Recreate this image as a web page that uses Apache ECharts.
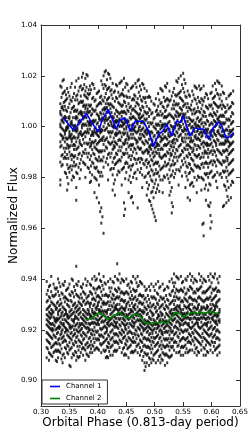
<!DOCTYPE html>
<html>
<head>
<meta charset="utf-8">
<script src="https://cdn.jsdelivr.net/npm/echarts@6/dist/echarts.min.js"></script>
<style>html,body{margin:0;padding:0;background:#fff}#c{width:249px;height:434px}</style>
</head>
<body>
<div id="c"></div>
<script>
// Tick labels
var xTicks = [0.30, 0.35, 0.40, 0.45, 0.50, 0.55, 0.60, 0.65];
var yTicks = [0.90, 0.92, 0.94, 0.96, 0.98, 1.00, 1.02, 1.04];

// Channel 1 raw points: phase columns and flux values (units of 0.001)
var ch1Phase = [0.334,0.338,0.342,0.346,0.350,0.354,0.358,0.362,0.366,0.370,0.374,0.378,0.382,0.386,0.390,0.394,0.398,0.402,0.406,0.410,0.414,0.418,0.422,0.426,0.430,0.434,0.438,0.442,0.446,0.450,0.454,0.458,0.462,0.466,0.470,0.474,0.478,0.482,0.486,0.490,0.494,0.498,0.502,0.506,0.510,0.514,0.518,0.522,0.526,0.530,0.534,0.538,0.542,0.546,0.550,0.554,0.558,0.562,0.566,0.570,0.574,0.578,0.582,0.586,0.590,0.594,0.598,0.602,0.606,0.610,0.614,0.618,0.622,0.626,0.630,0.634,0.638];
var ch1Flux = [
[1016,1009,1006,1005,1001,1000,997,994,992,986,979,977],
[1018,1013,1008,1007,1003,1002,999,996,995,989,985],
[1014,1010,1008,1004,1003,998,997,994,990,988,982],
[1015,1011,1006,1002,1000,999,995,993,989,985,980,975],
[1012,1009,1004,1003,998,997,996,992,990,984,982],
[1017,1010,1007,1002,1001,997,995,994,989,987,983,979],
[1013,1008,1006,1000,999,996,993,991,988,986,980],
[1018,1012,1006,1004,1003,999,998,994,991,985,982,976,971],
[1019,1014,1009,1005,1002,1001,997,996,992,989,984],
[1016,1012,1010,1006,1005,1002,998,997,993,987,983],
[1021,1015,1010,1008,1004,1003,1001,997,995,990,986],
[1019,1014,1012,1008,1007,1004,1001,998,996,991,985,980],
[1020,1013,1011,1007,1006,1002,999,998,993,988,984],
[1016,1013,1008,1006,1002,1001,999,995,992,987,982,978],
[1017,1011,1007,1005,1002,998,997,994,991,986,981],
[1015,1010,1006,1002,999,998,994,992,989,984,980,974],
[1013,1008,1005,1001,998,997,993,991,987,984,979,972],
[1014,1009,1004,1003,1000,996,994,990,988,982,977,970],
[1018,1012,1009,1005,1003,999,998,995,990,987,982,968,962],
[1020,1015,1010,1007,1005,1003,1000,996,993,988,984,958],
[1022,1016,1013,1009,1007,1004,1003,999,995,992,986],
[1021,1015,1011,1009,1006,1003,1001,998,994,989,985,979],
[1019,1014,1009,1007,1004,1002,998,996,993,988,983],
[1017,1011,1008,1004,1003,1000,998,994,991,986,981,975],
[1014,1010,1005,1002,1000,997,994,992,988,985,979,973],
[1016,1011,1006,1004,1002,999,997,993,989,986,981],
[1017,1012,1009,1005,1003,1000,998,995,992,987,982],
[1018,1013,1008,1006,1004,1002,1000,996,992,988,983,977],
[1019,1012,1010,1006,1003,1001,999,997,993,989,984,970,965],
[1017,1012,1008,1005,1002,1000,999,995,991,986,982],
[1014,1009,1006,1002,1000,996,995,992,988,984,979,974],
[1015,1008,1005,1003,999,997,993,991,987,983,978,972],
[1016,1011,1007,1004,1001,999,997,993,990,985,980,970],
[1017,1012,1008,1006,1003,1000,998,995,991,987,982],
[1018,1011,1009,1005,1002,1001,998,994,992,987,983,968],
[1016,1012,1007,1005,1003,1000,997,995,991,986,982],
[1017,1010,1008,1004,1002,999,997,994,990,987,981,976],
[1015,1011,1006,1003,1001,998,996,993,990,985,980],
[1014,1008,1005,1003,999,997,994,991,987,984,978,973],
[1012,1007,1004,1000,998,995,992,990,986,982,977,971],
[1010,1005,1001,998,995,993,991,987,983,979,974,969],
[1009,1003,1000,996,993,990,988,985,981,976,972,966],
[1011,1006,1001,999,995,992,990,986,983,979,974,963],
[1013,1008,1005,1001,998,996,993,991,986,982,977],
[1015,1009,1006,1002,999,996,994,991,988,983,979],
[1014,1008,1005,1001,1000,997,995,991,988,984,979,974],
[1016,1010,1006,1004,1001,998,996,993,989,986,980],
[1017,1011,1008,1004,1001,999,995,993,990,985,981],
[1014,1010,1005,1002,999,996,994,991,987,983,978,973],
[1012,1007,1004,1000,997,994,992,989,985,981,976,970,966],
[1015,1010,1007,1003,1000,997,995,992,988,985,980],
[1018,1012,1009,1006,1004,1001,998,995,991,988,983],
[1019,1013,1009,1005,1004,1001,999,996,992,988,983,977],
[1020,1014,1011,1007,1005,1002,1000,997,993,989,984],
[1021,1015,1010,1008,1005,1004,1001,998,994,990,985],
[1017,1012,1009,1005,1002,999,997,994,991,986,982,976],
[1014,1009,1006,1002,999,997,993,991,988,984,979,972],
[1012,1007,1003,1001,997,994,992,989,985,982,977,971],
[1014,1010,1005,1002,1000,997,994,990,987,983,978],
[1016,1011,1007,1005,1001,998,996,993,989,985,980],
[1015,1009,1006,1003,1000,998,995,991,988,984,979,974],
[1016,1010,1006,1002,1000,997,995,992,989,984,980],
[1015,1011,1007,1003,1001,998,996,993,988,985,980,975],
[1016,1010,1006,1004,1000,998,994,992,988,984,979,962,957],
[1013,1008,1004,1001,999,996,993,990,986,981,977,971],
[1011,1007,1002,999,996,993,991,988,984,980,975,969],
[1013,1008,1005,1001,998,995,993,990,986,982,977,970,965,960],
[1016,1011,1007,1004,1001,999,996,992,989,985,980],
[1017,1012,1009,1005,1002,1000,997,994,990,986,981],
[1018,1013,1008,1006,1003,1001,998,995,991,987,982,976],
[1017,1011,1008,1004,1002,1000,997,993,990,986,981],
[1016,1010,1007,1004,1001,998,996,993,989,985,980],
[1013,1008,1004,1001,998,996,993,990,986,982,977,969],
[1011,1006,1003,999,996,994,991,988,984,980,975,970],
[1012,1007,1003,1000,997,994,992,989,985,981,976,971],
[1013,1008,1004,1001,998,996,993,990,986,982,977,972],
[1014,1009,1005,1002,999,997,994,991,987,983,978]
];
var ch1PhaseB = [0.336,0.340,0.344,0.348,0.352,0.356,0.360,0.364,0.368,0.372,0.376,0.380,0.384,0.388,0.392,0.396,0.400,0.404,0.408,0.412,0.416,0.420,0.424,0.428,0.432,0.436,0.440,0.444,0.448,0.452,0.456,0.460,0.464,0.468,0.472,0.476,0.480,0.484,0.488,0.492,0.496,0.500,0.504,0.508,0.512,0.516,0.520,0.524,0.528,0.532,0.536,0.540,0.544,0.548,0.552,0.556,0.560,0.564,0.568,0.572,0.576,0.580,0.584,0.588,0.592,0.596,0.600,0.604,0.608,0.612,0.616,0.620,0.624,0.628,0.632,0.636];
var ch1FluxB = [
[1015.5,1011.5,1007.5,1004.5,1002.5,999.5,996.5,992.5,988.5,984.5],
[1018.5,1013.5,1009.5,1006.5,1003.5,1001.5,998.5,995.5,991.5,987.5],
[1012.5,1010.5,1006.5,1003.5,999.5,998.5,995.5,991.5,987.5,981.5],
[1013.5,1007.5,1003.5,1000.5,999.5,995.5,992.5,991.5,987.5,983.5,977.5],
[1015.5,1010.5,1005.5,1001.5,1000.5,996.5,995.5,992.5,988.5,984.5],
[1011.5,1007.5,1003.5,1000.5,998.5,995.5,992.5,988.5,984.5,980.5],
[1015.5,1010.5,1006.5,1003.5,1000.5,998.5,995.5,992.5,988.5,984.5],
[1012.5,1010.5,1006.5,1003.5,999.5,998.5,995.5,991.5,987.5,981.5],
[1015.5,1009.5,1005.5,1002.5,1001.5,997.5,994.5,993.5,989.5,985.5,979.5],
[1019.5,1014.5,1009.5,1005.5,1004.5,1000.5,999.5,996.5,992.5,988.5],
[1016.5,1012.5,1008.5,1005.5,1003.5,1000.5,997.5,993.5,989.5,985.5],
[1020.5,1015.5,1011.5,1008.5,1005.5,1003.5,1000.5,997.5,993.5,989.5],
[1014.5,1012.5,1008.5,1005.5,1001.5,1000.5,997.5,993.5,989.5,983.5],
[1014.5,1008.5,1004.5,1001.5,1000.5,996.5,993.5,992.5,988.5,984.5,978.5],
[1016.5,1011.5,1006.5,1002.5,1001.5,997.5,996.5,993.5,989.5,985.5],
[1010.5,1006.5,1002.5,999.5,997.5,994.5,991.5,987.5,983.5,979.5],
[1013.5,1008.5,1004.5,1001.5,998.5,996.5,993.5,990.5,986.5,982.5],
[1011.5,1009.5,1005.5,1002.5,998.5,997.5,994.5,990.5,986.5,980.5,966.5],
[1016.5,1010.5,1006.5,1003.5,1002.5,998.5,995.5,994.5,990.5,986.5,980.5,964.5],
[1021.5,1016.5,1011.5,1007.5,1006.5,1002.5,1001.5,998.5,994.5,990.5],
[1018.5,1014.5,1010.5,1007.5,1005.5,1002.5,999.5,995.5,991.5,987.5],
[1020.5,1015.5,1011.5,1008.5,1005.5,1003.5,1000.5,997.5,993.5,989.5],
[1014.5,1012.5,1008.5,1005.5,1001.5,1000.5,997.5,993.5,989.5,983.5],
[1013.5,1007.5,1003.5,1000.5,999.5,995.5,992.5,991.5,987.5,983.5,977.5],
[1016.5,1011.5,1006.5,1002.5,1001.5,997.5,996.5,993.5,989.5,985.5],
[1013.5,1009.5,1005.5,1002.5,1000.5,997.5,994.5,990.5,986.5,982.5],
[1017.5,1012.5,1008.5,1005.5,1002.5,1000.5,997.5,994.5,990.5,986.5],
[1014.5,1012.5,1008.5,1005.5,1001.5,1000.5,997.5,993.5,989.5,983.5],
[1015.5,1009.5,1005.5,1002.5,1001.5,997.5,994.5,993.5,989.5,985.5,979.5,967.5],
[1016.5,1011.5,1006.5,1002.5,1001.5,997.5,996.5,993.5,989.5,985.5],
[1011.5,1007.5,1003.5,1000.5,998.5,995.5,992.5,988.5,984.5,980.5],
[1015.5,1010.5,1006.5,1003.5,1000.5,998.5,995.5,992.5,988.5,984.5,972.5],
[1012.5,1010.5,1006.5,1003.5,999.5,998.5,995.5,991.5,987.5,981.5],
[1015.5,1009.5,1005.5,1002.5,1001.5,997.5,994.5,993.5,989.5,985.5,979.5],
[1018.5,1013.5,1008.5,1004.5,1003.5,999.5,998.5,995.5,991.5,987.5],
[1014.5,1010.5,1006.5,1003.5,1001.5,998.5,995.5,991.5,987.5,983.5],
[1016.5,1011.5,1007.5,1004.5,1001.5,999.5,996.5,993.5,989.5,985.5],
[1011.5,1009.5,1005.5,1002.5,998.5,997.5,994.5,990.5,986.5,980.5],
[1011.5,1005.5,1001.5,998.5,997.5,993.5,990.5,989.5,985.5,981.5,975.5],
[1011.5,1006.5,1001.5,997.5,996.5,992.5,991.5,988.5,984.5,980.5,970.5],
[1005.5,1001.5,997.5,994.5,992.5,989.5,986.5,982.5,978.5,974.5,967.5],
[1008.5,1003.5,999.5,996.5,993.5,991.5,988.5,985.5,981.5,977.5,964.5],
[1006.5,1004.5,1000.5,997.5,993.5,992.5,989.5,985.5,981.5,975.5],
[1010.5,1004.5,1000.5,997.5,996.5,992.5,989.5,988.5,984.5,980.5,974.5],
[1014.5,1009.5,1004.5,1000.5,999.5,995.5,994.5,991.5,987.5,983.5],
[1011.5,1007.5,1003.5,1000.5,998.5,995.5,992.5,988.5,984.5,980.5],
[1015.5,1010.5,1006.5,1003.5,1000.5,998.5,995.5,992.5,988.5,984.5],
[1010.5,1008.5,1004.5,1001.5,997.5,996.5,993.5,989.5,985.5,979.5],
[1010.5,1004.5,1000.5,997.5,996.5,992.5,989.5,988.5,984.5,980.5,974.5],
[1013.5,1008.5,1003.5,999.5,998.5,994.5,993.5,990.5,986.5,982.5,968.5],
[1012.5,1008.5,1004.5,1001.5,999.5,996.5,993.5,989.5,985.5,981.5],
[1017.5,1012.5,1008.5,1005.5,1002.5,1000.5,997.5,994.5,990.5,986.5],
[1013.5,1011.5,1007.5,1004.5,1000.5,999.5,996.5,992.5,988.5,982.5],
[1016.5,1010.5,1006.5,1003.5,1002.5,998.5,995.5,994.5,990.5,986.5,980.5],
[1018.5,1013.5,1008.5,1004.5,1003.5,999.5,998.5,995.5,991.5,987.5],
[1011.5,1007.5,1003.5,1000.5,998.5,995.5,992.5,988.5,984.5,980.5],
[1012.5,1007.5,1003.5,1000.5,997.5,995.5,992.5,989.5,985.5,981.5],
[1008.5,1006.5,1002.5,999.5,995.5,994.5,991.5,987.5,983.5,977.5],
[1012.5,1006.5,1002.5,999.5,998.5,994.5,991.5,990.5,986.5,982.5,976.5],
[1015.5,1010.5,1005.5,1001.5,1000.5,996.5,995.5,992.5,988.5,984.5],
[1011.5,1007.5,1003.5,1000.5,998.5,995.5,992.5,988.5,984.5,980.5],
[1014.5,1009.5,1005.5,1002.5,999.5,997.5,994.5,991.5,987.5,983.5],
[1010.5,1008.5,1004.5,1001.5,997.5,996.5,993.5,989.5,985.5,979.5,961.5],
[1011.5,1005.5,1001.5,998.5,997.5,993.5,990.5,989.5,985.5,981.5,975.5],
[1012.5,1007.5,1002.5,998.5,997.5,993.5,992.5,989.5,985.5,981.5],
[1008.5,1004.5,1000.5,997.5,995.5,992.5,989.5,985.5,981.5,977.5,968.5],
[1013.5,1008.5,1004.5,1001.5,998.5,996.5,993.5,990.5,986.5,982.5,962.5],
[1011.5,1009.5,1005.5,1002.5,998.5,997.5,994.5,990.5,986.5,980.5],
[1014.5,1008.5,1004.5,1001.5,1000.5,996.5,993.5,992.5,988.5,984.5,978.5],
[1017.5,1012.5,1007.5,1003.5,1002.5,998.5,997.5,994.5,990.5,986.5],
[1012.5,1008.5,1004.5,1001.5,999.5,996.5,993.5,989.5,985.5,981.5],
[1013.5,1008.5,1004.5,1001.5,998.5,996.5,993.5,990.5,986.5,982.5,968.5],
[1007.5,1005.5,1001.5,998.5,994.5,993.5,990.5,986.5,982.5,976.5],
[1008.5,1002.5,998.5,995.5,994.5,990.5,987.5,986.5,982.5,978.5,972.5],
[1012.5,1007.5,1002.5,998.5,997.5,993.5,992.5,989.5,985.5,981.5],
[1009.5,1005.5,1001.5,998.5,996.5,993.5,990.5,986.5,982.5,978.5]
];

// Channel 2 raw points
var ch2Phase = [0.310,0.314,0.318,0.322,0.326,0.330,0.334,0.338,0.342,0.346,0.350,0.354,0.358,0.362,0.366,0.370,0.374,0.378,0.382,0.386,0.390,0.394,0.398,0.402,0.406,0.410,0.414,0.418,0.422,0.426,0.430,0.434,0.438,0.442,0.446,0.450,0.454,0.458,0.462,0.466,0.470,0.474,0.478,0.482,0.486,0.490,0.494,0.498,0.502,0.506,0.510,0.514,0.518,0.522,0.526,0.530,0.534,0.538,0.542,0.546,0.550,0.554,0.558,0.562,0.566,0.570,0.574,0.578,0.582,0.586,0.590,0.594,0.598,0.602,0.606,0.610,0.614];
var ch2Flux = [
[939,934,931,928,926,924,922,919,916,913,909],
[937,933,929,927,925,923,921,918,915,911,908],
[941,935,931,928,926,925,922,920,917,913,910],
[938,933,930,927,925,922,920,918,914,911],
[936,934,929,928,924,923,920,917,915,912,908],
[940,935,931,927,926,924,921,919,916,912,909],
[937,932,930,928,925,923,921,918,914,911],
[938,934,929,927,924,922,920,917,915,910,907],
[939,933,931,928,926,924,921,919,916,913,909],
[936,932,930,926,925,923,920,918,914,911],
[938,934,929,927,925,922,921,917,915,912,906],
[940,935,931,928,926,924,921,919,916,913,909],
[937,933,930,927,924,923,920,918,914,910],
[945,938,934,929,927,925,922,920,917,915,911,908],
[939,933,931,928,926,924,921,919,916,912,909],
[937,934,930,927,925,922,920,918,915,911],
[938,935,931,928,926,924,922,919,916,913,910],
[940,934,930,927,925,923,921,918,914,912,908],
[939,933,931,928,926,924,921,919,915,913,910],
[938,935,930,929,926,925,922,920,917,914,911],
[940,934,932,928,927,925,923,920,918,914,911],
[941,936,932,930,927,926,923,921,918,915,912],
[940,936,933,929,928,926,924,922,919,916,913],
[942,937,933,931,928,927,924,922,918,916,912],
[939,935,932,929,927,925,923,920,918,914,911],
[941,936,931,930,927,926,923,921,917,915,912],
[938,934,930,927,925,924,921,919,916,912,909],
[939,933,931,928,925,923,922,918,915,913,909],
[940,935,931,928,926,924,922,919,916,913,910],
[939,934,932,929,927,925,922,920,917,914,910],
[941,936,932,929,928,925,923,921,918,915,912],
[946,940,935,933,930,928,926,923,921,918,915,912],
[942,936,933,930,928,926,924,922,919,916,913],
[940,935,932,929,927,926,923,920,918,915,911],
[939,934,931,928,926,924,922,919,917,913,910],
[940,935,930,929,926,925,922,920,916,914,910],
[938,934,931,928,926,924,921,919,917,913,909],
[939,935,932,928,927,925,922,919,916,914,911],
[941,936,932,929,927,925,923,921,917,915,911],
[940,935,933,930,928,926,923,920,918,915,912],
[941,937,932,929,927,926,924,921,918,914,911],
[939,934,931,928,926,924,922,920,916,913,910],
[938,933,930,927,925,923,921,918,915,912,908],
[937,932,929,927,924,922,920,917,914,911,907,904],
[936,931,928,926,923,921,919,916,913,910,907],
[937,932,929,925,923,921,918,916,913,909,906],
[938,933,929,927,924,922,920,917,914,911,907],
[937,933,930,926,924,922,920,917,915,910,908],
[938,932,929,927,923,922,919,917,914,911,907],
[939,934,930,926,925,922,921,918,915,912,908],
[937,933,929,927,924,923,920,917,914,910,907],
[938,932,930,926,924,922,919,918,914,911,908],
[936,931,928,925,923,921,919,916,913,910,906],
[937,932,929,926,923,922,919,916,914,910,907],
[939,934,930,927,925,923,921,918,915,912,909],
[940,935,931,928,926,924,922,919,916,913,910],
[942,937,933,930,928,926,924,921,918,915,912],
[941,936,933,929,928,926,923,921,919,915,911],
[940,935,932,929,927,925,923,920,917,914,911],
[941,936,931,928,927,924,922,920,916,913,910],
[939,935,931,928,926,924,922,919,917,913,910],
[940,934,932,929,926,925,923,920,916,914,911],
[941,936,931,929,927,925,922,920,917,915,911],
[942,937,933,930,928,926,924,921,918,915,912],
[941,936,932,930,927,926,923,921,919,916,912],
[940,935,932,929,927,925,922,920,917,914,911],
[939,936,931,928,926,924,923,919,916,913,910],
[942,936,933,930,927,926,924,921,918,915,911],
[941,937,932,929,928,925,923,921,917,914,912],
[940,935,931,929,926,925,922,920,917,913,910],
[939,935,932,928,926,924,922,919,916,914,910],
[941,936,932,929,927,925,923,920,918,915,911],
[942,937,933,930,928,926,923,921,918,914,912],
[941,936,932,930,927,925,924,920,917,915,911],
[942,936,933,929,928,926,923,921,918,915,912],
[940,935,931,929,926,925,922,920,917,913,910],
[941,935,932,928,927,924,923,919,916,914,911]
];
var ch2PhaseB = [0.312,0.316,0.320,0.324,0.328,0.332,0.336,0.340,0.344,0.348,0.352,0.356,0.360,0.364,0.368,0.372,0.376,0.380,0.384,0.388,0.392,0.396,0.400,0.404,0.408,0.412,0.416,0.420,0.424,0.428,0.432,0.436,0.440,0.444,0.448,0.452,0.456,0.460,0.464,0.468,0.472,0.476,0.480,0.484,0.488,0.492,0.496,0.500,0.504,0.508,0.512,0.516,0.520,0.524,0.528,0.532,0.536,0.540,0.544,0.548,0.552,0.556,0.560,0.564,0.568,0.572,0.576,0.580,0.584,0.588,0.592,0.596,0.600,0.604,0.608,0.612];
var ch2FluxB = [
[935.5,931.5,928.5,925.5,923.5,921.5,918.5,915.5,912.5],
[937.5,932.5,929.5,926.5,924.5,922.5,920.5,917.5,914.5,910.5],
[933.5,930.5,927.5,926.5,922.5,920.5,919.5,916.5,913.5,909.5],
[936.5,933.5,929.5,924.5,923.5,921.5,917.5,914.5,911.5],
[936.5,930.5,928.5,924.5,923.5,920.5,918.5,914.5,911.5,907.5],
[938.5,933.5,929.5,927.5,924.5,921.5,920.5,916.5,914.5,911.5],
[934.5,930.5,926.5,925.5,922.5,919.5,918.5,916.5,912.5,908.5],
[937.5,932.5,928.5,925.5,922.5,921.5,917.5,915.5,910.5],
[935.5,932.5,927.5,926.5,923.5,920.5,919.5,915.5,912.5],
[936.5,931.5,929.5,925.5,924.5,922.5,919.5,917.5,913.5,910.5],
[933.5,931.5,927.5,925.5,921.5,920.5,918.5,916.5,912.5,905.5],
[939.5,934.5,929.5,926.5,923.5,921.5,917.5,914.5,910.5],
[935.5,930.5,928.5,925.5,924.5,921.5,918.5,915.5,911.5],
[937.5,933.5,929.5,927.5,924.5,922.5,919.5,917.5,913.5,909.5],
[932.5,930.5,928.5,926.5,922.5,921.5,919.5,915.5,913.5,909.5],
[936.5,932.5,929.5,924.5,922.5,920.5,917.5,914.5,912.5],
[934.5,931.5,927.5,925.5,923.5,921.5,918.5,916.5,912.5],
[937.5,932.5,930.5,926.5,924.5,922.5,920.5,917.5,914.5,910.5],
[933.5,930.5,927.5,926.5,922.5,920.5,919.5,916.5,913.5,909.5],
[937.5,934.5,930.5,925.5,924.5,922.5,918.5,915.5,912.5],
[936.5,932.5,929.5,926.5,924.5,922.5,919.5,916.5,913.5],
[939.5,934.5,931.5,928.5,926.5,924.5,922.5,919.5,916.5,912.5],
[936.5,933.5,930.5,929.5,925.5,923.5,922.5,919.5,916.5,912.5],
[939.5,936.5,932.5,927.5,926.5,924.5,920.5,917.5,914.5],
[937.5,933.5,930.5,927.5,925.5,923.5,920.5,917.5,914.5],
[938.5,933.5,930.5,927.5,925.5,923.5,921.5,918.5,915.5,911.5],
[933.5,930.5,927.5,926.5,922.5,920.5,919.5,916.5,913.5,909.5],
[936.5,933.5,929.5,924.5,923.5,921.5,917.5,914.5,911.5],
[936.5,932.5,929.5,926.5,924.5,922.5,919.5,916.5,913.5],
[938.5,933.5,930.5,927.5,925.5,923.5,921.5,918.5,915.5,911.5],
[935.5,932.5,929.5,928.5,924.5,922.5,921.5,918.5,915.5,911.5],
[939.5,936.5,932.5,927.5,926.5,924.5,920.5,917.5,914.5],
[938.5,934.5,931.5,928.5,926.5,924.5,921.5,918.5,915.5],
[939.5,934.5,931.5,928.5,926.5,924.5,922.5,919.5,916.5,912.5],
[934.5,931.5,928.5,927.5,923.5,921.5,920.5,917.5,914.5,910.5],
[937.5,934.5,930.5,925.5,924.5,922.5,918.5,915.5,912.5],
[936.5,932.5,929.5,926.5,924.5,922.5,919.5,916.5,913.5],
[938.5,933.5,930.5,927.5,925.5,923.5,921.5,918.5,915.5,911.5],
[935.5,932.5,929.5,928.5,924.5,922.5,921.5,918.5,915.5,911.5],
[938.5,935.5,931.5,926.5,925.5,923.5,919.5,916.5,913.5],
[937.5,933.5,930.5,927.5,925.5,923.5,920.5,917.5,914.5],
[938.5,933.5,930.5,927.5,925.5,923.5,921.5,918.5,915.5,911.5],
[933.5,930.5,927.5,926.5,922.5,920.5,919.5,916.5,913.5,909.5],
[935.5,932.5,928.5,923.5,922.5,920.5,916.5,913.5,910.5,905.5],
[933.5,929.5,926.5,923.5,921.5,919.5,916.5,913.5,910.5],
[935.5,930.5,927.5,924.5,922.5,920.5,918.5,915.5,912.5,908.5],
[932.5,929.5,926.5,925.5,921.5,919.5,918.5,915.5,912.5,908.5],
[935.5,932.5,928.5,923.5,922.5,920.5,916.5,913.5,910.5],
[934.5,930.5,927.5,924.5,922.5,920.5,917.5,914.5,911.5],
[936.5,931.5,928.5,925.5,923.5,921.5,919.5,916.5,913.5,909.5],
[932.5,929.5,926.5,925.5,921.5,919.5,918.5,915.5,912.5,908.5],
[935.5,932.5,928.5,923.5,922.5,920.5,916.5,913.5,910.5],
[933.5,929.5,926.5,923.5,921.5,919.5,916.5,913.5,910.5],
[936.5,931.5,928.5,925.5,923.5,921.5,919.5,916.5,913.5,909.5],
[933.5,930.5,927.5,926.5,922.5,920.5,919.5,916.5,913.5,909.5],
[938.5,935.5,931.5,926.5,925.5,923.5,919.5,916.5,913.5],
[938.5,934.5,931.5,928.5,926.5,924.5,921.5,918.5,915.5],
[940.5,935.5,932.5,929.5,927.5,925.5,923.5,920.5,917.5,913.5],
[935.5,932.5,929.5,928.5,924.5,922.5,921.5,918.5,915.5,911.5],
[938.5,935.5,931.5,926.5,925.5,923.5,919.5,916.5,913.5],
[936.5,932.5,929.5,926.5,924.5,922.5,919.5,916.5,913.5],
[939.5,934.5,931.5,928.5,926.5,924.5,922.5,919.5,916.5,912.5],
[935.5,932.5,929.5,928.5,924.5,922.5,921.5,918.5,915.5,911.5],
[939.5,936.5,932.5,927.5,926.5,924.5,920.5,917.5,914.5],
[938.5,934.5,931.5,928.5,926.5,924.5,921.5,918.5,915.5],
[939.5,934.5,931.5,928.5,926.5,924.5,922.5,919.5,916.5,912.5],
[935.5,932.5,929.5,928.5,924.5,922.5,921.5,918.5,915.5,911.5],
[939.5,936.5,932.5,927.5,926.5,924.5,920.5,917.5,914.5],
[938.5,934.5,931.5,928.5,926.5,924.5,921.5,918.5,915.5],
[939.5,934.5,931.5,928.5,926.5,924.5,922.5,919.5,916.5,912.5],
[935.5,932.5,929.5,928.5,924.5,922.5,921.5,918.5,915.5,911.5],
[939.5,936.5,932.5,927.5,926.5,924.5,920.5,917.5,914.5],
[938.5,934.5,931.5,928.5,926.5,924.5,921.5,918.5,915.5],
[940.5,935.5,932.5,929.5,927.5,925.5,923.5,920.5,917.5,913.5],
[936.5,933.5,930.5,929.5,925.5,923.5,922.5,919.5,916.5,912.5],
[938.5,935.5,931.5,926.5,925.5,923.5,919.5,916.5,913.5]
];

// Smoothed curves
var ch1LinePhase = [0.339,0.348,0.357,0.364,0.372,0.380,0.389,0.401,0.407,0.418,0.427,0.432,0.439,0.448,0.457,0.466,0.474,0.480,0.489,0.498,0.507,0.515,0.521,0.530,0.539,0.545,0.550,0.556,0.562,0.571,0.577,0.586,0.595,0.603,0.612,0.618,0.626,0.633,0.639];
var ch1LineFlux = [1.0035,1.0010,0.9987,1.0005,1.0029,1.0052,1.0016,0.9979,1.0022,1.0068,1.0022,0.9990,1.0026,1.0035,0.9983,1.0022,1.0020,1.0022,0.9983,0.9922,0.9970,0.9983,1.0009,0.9963,1.0022,1.0016,1.0042,1.0002,0.9963,0.9996,0.9990,0.9990,0.9950,0.9996,1.0018,1.0002,0.9953,0.9963,0.9976];
var ch2LinePhase = [0.379,0.389,0.401,0.410,0.417,0.427,0.438,0.448,0.4555,0.4655,0.474,0.480,0.489,0.498,0.5065,0.5125,0.521,0.530,0.536,0.5445,0.550,0.559,0.568,0.577,0.580,0.586,0.5975,0.606,0.614];
var ch2LineFlux = [0.9239,0.9246,0.9267,0.9259,0.9240,0.9254,0.9269,0.9250,0.9246,0.9263,0.9255,0.9236,0.9220,0.9230,0.9227,0.9233,0.9224,0.9250,0.9269,0.9263,0.9250,0.9263,0.9269,0.9263,0.9272,0.9263,0.9272,0.9267,0.9263];

function pts(phases, cols) {
  var out = [];
  for (var k = 0; k < phases.length; k++) {
    for (var j = 0; j < cols[k].length; j++) out.push([phases[k], cols[k][j] / 1000]);
  }
  return out;
}
function pairs(xs, ys) { return xs.map(function (x, i) { return [x, ys[i]]; }); }

var FONT = 'DejaVu Sans';
var axisColor = '#333';
function fmt(v) { return v.toFixed(2); }

var chart = echarts.init(document.getElementById('c'), null, { renderer: 'canvas' });
var scatterStyle = { color: '#000', opacity: 0.78 };
var pts1 = pts(ch1Phase, ch1Flux).concat(pts(ch1PhaseB, ch1FluxB));
var pts2 = pts(ch2Phase, ch2Flux).concat(pts(ch2PhaseB, ch2FluxB));
chart.setOption({
  animation: false,
  backgroundColor: '#fff',
  grid: { left: 41, right: 9, top: 25, bottom: 28, containLabel: false, outerBoundsMode: 'none' },
  xAxis: [{
    type: 'value', min: 0.30, max: 0.65, interval: 0.05,
    axisLine: { lineStyle: { color: axisColor, width: 1 } },
    axisTick: { inside: true, length: 4, lineStyle: { color: axisColor } },
    axisLabel: { customValues: xTicks, formatter: fmt, fontSize: 7.2, color: '#000', fontFamily: FONT, margin: 3 },
    splitLine: { show: false },
    name: 'Orbital Phase (0.813-day period)', nameLocation: 'middle', nameGap: 11, nameMoveOverlap: false,
    nameTextStyle: { fontSize: 12, color: '#000', fontFamily: FONT }
  }, {
    type: 'value', position: 'top', min: 0.30, max: 0.65, interval: 0.05,
    axisLine: { lineStyle: { color: axisColor, width: 1 } },
    axisTick: { inside: true, length: 4, lineStyle: { color: axisColor } },
    axisLabel: { show: false }, splitLine: { show: false }
  }],
  yAxis: [{
    type: 'value', min: 0.89, max: 1.04,
    axisLine: { show: true, lineStyle: { color: axisColor, width: 1 } },
    axisTick: { show: true, inside: true, length: 4, customValues: yTicks, lineStyle: { color: axisColor } },
    axisLabel: { customValues: yTicks, formatter: fmt, fontSize: 7.2, color: '#000', fontFamily: FONT, margin: 4 },
    splitLine: { show: false },
    name: 'Normalized Flux', nameLocation: 'middle', nameGap: 21, nameMoveOverlap: false,
    nameTextStyle: { fontSize: 12, color: '#000', fontFamily: FONT }
  }, {
    type: 'value', position: 'right', min: 0.89, max: 1.04,
    axisLine: { show: true, lineStyle: { color: axisColor, width: 1 } },
    axisTick: { show: true, inside: true, length: 4, customValues: yTicks, lineStyle: { color: axisColor } },
    axisLabel: { show: false }, splitLine: { show: false }
  }],
  legend: {
    data: ['Channel 1', 'Channel 2'], orient: 'vertical', left: 42, bottom: 30,
    icon: 'rect', itemWidth: 10, itemHeight: 1.6, itemGap: 5,
    textStyle: { fontSize: 7, fontFamily: FONT, color: '#000', padding: [0, 0, 0, 1] },
    borderColor: '#333', borderWidth: 1, backgroundColor: '#fff', borderRadius: 0,
    padding: [3, 6, 2, 8]
  },
  series: [
    { name: 'pts1', type: 'scatter', data: pts1, symbol: 'rect', symbolSize: [2, 3], itemStyle: scatterStyle, silent: true, z: 1 },
    { name: 'pts2', type: 'scatter', data: pts2, symbol: 'rect', symbolSize: [2, 3], itemStyle: scatterStyle, silent: true, z: 1 },
    { name: 'Channel 1', type: 'line', data: pairs(ch1LinePhase, ch1LineFlux), symbol: 'none', lineStyle: { color: '#0000ff', width: 1.6 }, itemStyle: { color: '#0000ff' }, z: 5 },
    { name: 'Channel 2', type: 'line', data: pairs(ch2LinePhase, ch2LineFlux), symbol: 'none', lineStyle: { color: '#008000', width: 1.6 }, itemStyle: { color: '#008000' }, z: 5 }
  ]
});
</script>
</body>
</html>
